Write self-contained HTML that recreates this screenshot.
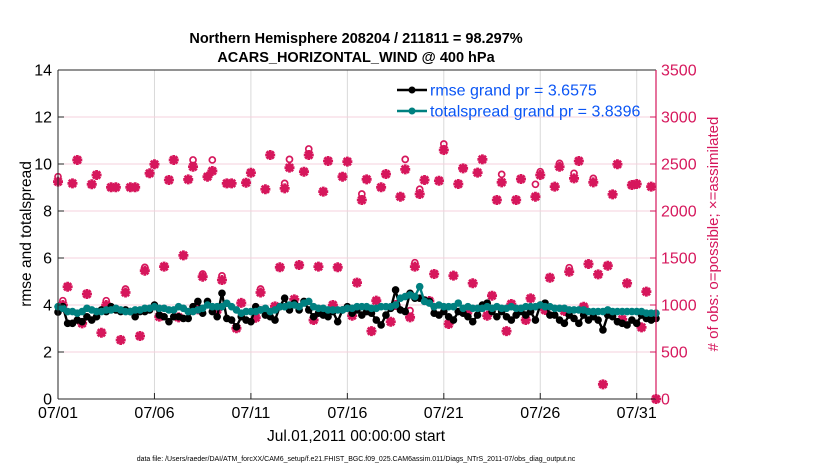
<!DOCTYPE html>
<html><head><meta charset="utf-8"><style>
html,body{margin:0;padding:0;background:#fff;}
svg{display:block;font-family:"Liberation Sans",Arial,sans-serif;}
</style></head><body>
<svg id="chart" width="830" height="470" viewBox="0 0 830 470">
<text x="356" y="43" text-anchor="middle" font-size="14.5" font-weight="bold">Northern Hemisphere 208204 / 211811 = 98.297%</text>
<text x="356" y="62" text-anchor="middle" font-size="14.5" font-weight="bold">ACARS_HORIZONTAL_WIND @ 400 hPa</text>
<g id="grid"></g>
<g id="obs"></g>
<g id="lines"></g>
<g id="axes"></g>
<text transform="translate(31,234) rotate(-90)" text-anchor="middle" font-size="15.5">rmse and totalspread</text>
<text transform="translate(718,234) rotate(-90)" text-anchor="middle" font-size="15" fill="#d6175c"># of obs: o=possible; ×=assimilated</text>
<text x="356" y="441" text-anchor="middle" font-size="15.5">Jul.01,2011 00:00:00 start</text>
<text x="356" y="461" text-anchor="middle" font-size="7">data file: /Users/raeder/DAI/ATM_forcXX/CAM6_setup/f.e21.FHIST_BGC.f09_025.CAM6assim.011/Diags_NTrS_2011-07/obs_diag_output.nc</text>
<g id="legend"></g>
</svg>
<script>
const xTickLabels=["07/01","07/06","07/11","07/16","07/21","07/26","07/31"];
const xTickDays=[0,5,10,15,20,25,30];
const yTicks=[0,2,4,6,8,10,12,14];
const y2Ticks=[0,500,1000,1500,2000,2500,3000,3500];
const startDay=0, stepDay=0.25;
const rmse=[3.70,3.93,3.22,3.22,3.36,3.29,3.50,3.36,3.50,3.79,3.72,3.93,3.79,3.72,3.79,3.72,3.50,3.72,3.72,3.79,4.00,3.57,3.50,3.29,3.50,3.50,3.43,3.43,3.93,4.15,3.65,4.15,3.72,3.50,4.50,3.43,3.36,3.07,3.50,3.36,3.29,3.93,3.79,3.57,3.50,3.36,3.93,4.29,3.79,4.07,3.79,4.15,3.79,3.50,3.65,3.57,3.50,3.72,3.29,3.79,3.93,3.65,3.79,3.57,3.72,3.65,3.36,3.15,3.57,3.86,4.64,3.79,3.72,4.50,4.29,4.29,4.21,4.15,3.65,3.57,3.72,3.50,3.36,3.72,3.65,3.50,3.29,3.57,4.00,4.08,3.72,3.50,3.72,3.50,3.36,3.57,3.72,3.57,3.72,3.36,4.00,4.08,3.57,3.57,3.36,3.22,3.57,3.43,3.22,3.57,3.36,3.50,3.36,2.94,3.57,3.50,3.29,3.22,3.15,3.36,3.22,3.57,3.43,3.36,3.43];
const spread=[3.93,3.86,3.72,3.72,3.65,3.72,3.86,3.79,3.72,3.72,3.79,3.79,3.86,3.79,3.72,3.72,3.79,3.79,3.86,3.86,3.93,3.86,3.86,3.79,3.79,3.93,3.86,3.72,3.72,3.79,3.86,4.00,3.93,3.93,3.93,4.07,3.93,3.79,3.65,3.72,3.72,3.72,3.79,3.86,3.72,3.79,3.93,3.93,4.00,4.00,3.93,4.08,4.15,3.93,3.86,3.86,3.79,3.79,3.79,3.79,3.86,3.86,3.93,3.93,3.93,3.86,3.86,3.93,3.93,3.93,4.00,4.29,4.36,4.43,4.36,4.78,4.15,4.08,3.93,4.00,3.93,3.93,3.93,4.08,3.86,3.93,3.86,3.86,3.86,3.93,3.86,3.93,3.86,3.86,3.93,3.86,3.86,3.93,3.93,3.93,4.00,3.93,3.93,3.86,3.86,3.86,3.79,3.79,3.79,3.79,3.72,3.72,3.72,3.72,3.79,3.72,3.72,3.72,3.72,3.72,3.72,3.72,3.65,3.65,3.65];
const assimilated=[2312,1000,1194,2294,2543,805,1117,2284,2383,705,1000,2252,2252,628,1133,2252,2252,670,1365,2401,2497,876,1408,2330,2543,869,1528,2336,2471,954,1301,2365,2426,947,1266,2294,2294,752,1022,2301,2407,865,1133,2231,2596,986,1401,2241,2461,1060,1425,2418,2596,840,1408,2206,2532,1000,1401,2365,2525,886,1238,2117,2337,722,1046,2252,2393,822,1000,2152,2443,869,1408,2181,2330,1043,1330,2322,2649,798,1312,2287,2454,936,1231,2408,2549,886,1099,2117,2305,722,1011,2117,2340,840,1071,2152,2383,947,1290,2259,2471,936,1354,2347,2532,982,1436,2305,1326,156,1418,2177,2497,847,1231,2276,2287,762,1142,2259,0];
const possible=[2365,1046,1194,2294,2543,805,1117,2284,2383,705,1046,2252,2252,628,1170,2252,2252,670,1400,2401,2497,876,1408,2330,2543,869,1528,2336,2543,954,1330,2365,2543,947,1310,2294,2294,752,1022,2301,2407,865,1170,2231,2596,986,1401,2294,2549,1060,1425,2418,2660,840,1408,2206,2532,1000,1401,2365,2525,886,1238,2181,2337,722,1046,2252,2393,822,1000,2152,2549,940,1450,2231,2330,1043,1330,2322,2713,798,1312,2287,2454,936,1231,2408,2549,886,1099,2117,2390,722,1011,2117,2340,840,1071,2284,2418,947,1290,2259,2507,936,1397,2401,2532,982,1436,2347,1326,156,1418,2177,2497,847,1231,2276,2287,762,1142,2259,0];

const X0=58,X1=656,Y0=399,Y1=70;
const xs=d=>X0+(d-0)/31*(X1-X0);
const ys=v=>Y0-v/14*(Y0-Y1);
const y2s=v=>Y0-v/3500*(Y0-Y1);
const NS="http://www.w3.org/2000/svg";
function mk(tag,attrs,parent){const e=document.createElementNS(NS,tag);for(const k in attrs)e.setAttribute(k,attrs[k]);parent.appendChild(e);return e;}
const grid=document.getElementById('grid'),axes=document.getElementById('axes'),obs=document.getElementById('obs'),lines=document.getElementById('lines'),legend=document.getElementById('legend');

xTickDays.forEach((d,i)=>{
  const l=mk('line',{x1:xs(d),x2:xs(d),y1:Y1,y2:Y0,stroke:'#d9d9d9','stroke-width':1},grid);
  
  
  const t=mk('line',{x1:xs(d),x2:xs(d),y1:Y0,y2:Y0-6,stroke:'#262626','stroke-width':1},axes);
  
  
  const tx=mk('text',{x:xs(d),y:418,'text-anchor':'middle','font-size':16},axes);
  tx.textContent=xTickLabels[i];
  
  
});
y2Ticks.forEach(v=>{
  if(v>0&&v<3500){const l=mk('line',{x1:X0,x2:X1,y1:y2s(v),y2:y2s(v),stroke:'#f6d0dc','stroke-width':1},grid);
  
  }
  const t=mk('line',{x1:X1,x2:X1-6,y1:y2s(v),y2:y2s(v),stroke:'#d6175c','stroke-width':1},axes);
  
  
  const tx=mk('text',{x:661,y:y2s(v)+5.5,'font-size':16,fill:'#d6175c'},axes);
  tx.textContent=v;
  
  
});
yTicks.forEach(v=>{
  const t=mk('line',{x1:X0,x2:X0+6,y1:ys(v),y2:ys(v),stroke:'#262626','stroke-width':1},axes);
  
  
  const tx=mk('text',{x:52,y:ys(v)+5.5,'text-anchor':'end','font-size':16},axes);
  tx.textContent=v;
  
  
});
let a;
a=mk('line',{x1:X0,x2:X0,y1:Y1,y2:Y0,stroke:'#262626','stroke-width':1},axes);


a=mk('line',{x1:X0,x2:X1,y1:Y0,y2:Y0,stroke:'#262626','stroke-width':1},axes);


a=mk('line',{x1:X0,x2:X1,y1:Y1,y2:Y1,stroke:'#262626','stroke-width':1},axes);


a=mk('line',{x1:X1,x2:X1,y1:Y1,y2:Y0,stroke:'#d6175c','stroke-width':1.2},axes);



possible.forEach((v,i)=>{
  if(v==null)return;
  const c=mk('circle',{cx:xs(startDay+i*stepDay),cy:y2s(v),r:3,fill:'none',stroke:'#d6175c','stroke-width':1.7},obs);
  
  
});
assimilated.forEach((v,i)=>{
  if(v==null)return;
  const x=xs(startDay+i*stepDay),y=y2s(v);
  const g=mk('path',{d:`M${x-5},${y}L${x+5},${y}M${x},${y-5}L${x},${y+5}M${x-3.6},${y-3.6}L${x+3.6},${y+3.6}M${x-3.6},${y+3.6}L${x+3.6},${y-3.6}`,stroke:'#d6175c','stroke-width':2.8,fill:'none'},obs);
  
  
  const c=mk('circle',{cx:x,cy:y,r:2.6,fill:'#d6175c'},obs);
  
  
});
function series(vals,color,name){
  const pts=vals.map((v,i)=>xs(startDay+i*stepDay).toFixed(1)+','+ys(v).toFixed(1)).join(' ');
  const p=mk('polyline',{points:pts,fill:'none',stroke:color,'stroke-width':2.4},lines);
  
  
  vals.forEach((v,i)=>{
    const c=mk('circle',{cx:xs(startDay+i*stepDay),cy:ys(v),r:3.8,fill:color},lines);
    
    
  });
}
series(rmse,'#000000','rmse');
series(spread,'#008080','totalspread');

[['#000000','rmse grand pr = 3.6575',90],['#008080','totalspread grand pr = 3.8396',111]].forEach(([c,t,y],i)=>{
  const l=mk('line',{x1:397,x2:427,y1:y,y2:y,stroke:c,'stroke-width':2.4},legend);
  
  
  const d=mk('circle',{cx:412,cy:y,r:3.5,fill:c},legend);
  
  
  const tx=mk('text',{x:430,y:y+5.5,'font-size':16,fill:'#0a55f5'},legend);
  tx.textContent=t;
  
  
});
</script>
</body></html>
